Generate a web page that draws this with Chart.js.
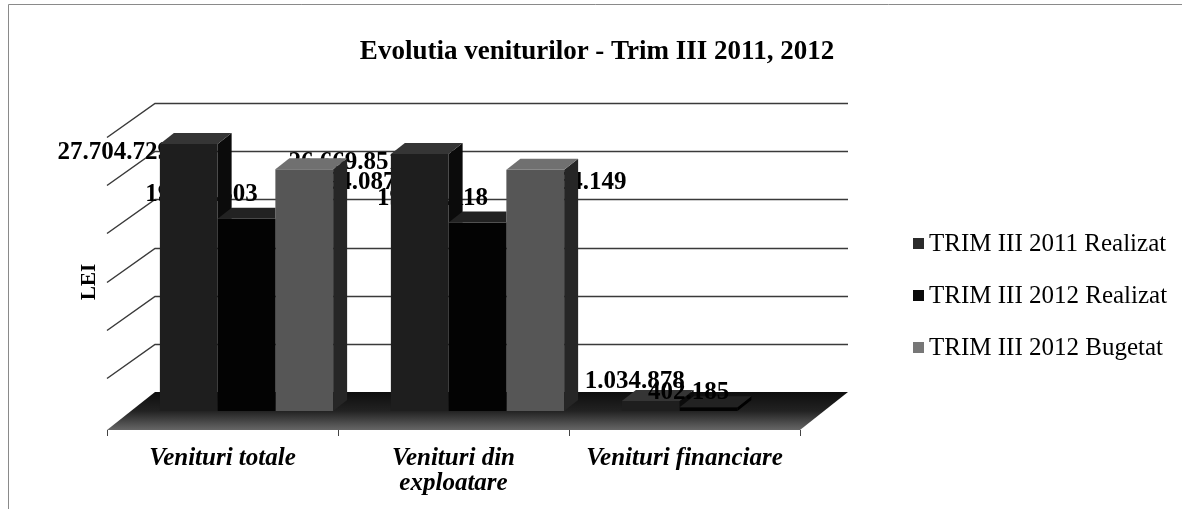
<!DOCTYPE html>
<html>
<head>
<meta charset="utf-8">
<script src="https://cdn.jsdelivr.net/npm/chart.js@4.4.1/dist/chart.umd.min.js"></script>
<style>
  html, body { margin: 0; padding: 0; background: #fff; }
  #wrap { width: 1182px; height: 509px; }
</style>
</head>
<body>
<div id="wrap"><canvas id="chart" width="1182" height="509"></canvas></div>
<script>
// data
const categories = [["Venituri totale"], ["Venituri din", "exploatare"], ["Venituri financiare"]];
const seriesNames = ["TRIM III 2011 Realizat", "TRIM III 2012 Realizat", "TRIM III 2012 Bugetat"];
const realizat2011 = [27704729, 26669851, 1034878];
const realizat2012 = [19958303, 19556118, 402185];
const bugetat2012 = [25094087, 25054149, null];
const yTicks = [0, 5000000, 10000000, 15000000, 20000000, 25000000, 30000000];
const chartTitle = "Evolutia veniturilor - Trim III 2011, 2012";
const axisTitle = "LEI";

// look of the series (front, top, side)
const faces = [
  { front: "#1e1e1e", top: "#353535", side: "#0b0b0b", legend: "#2b2b2b" },
  { front: "#030303", top: "#222222", side: "#000000", legend: "#0a0a0a" },
  { front: "#565656", top: "#707070", side: "#262626", legend: "#777777" },
];
// where each series puts its value label (dxLow used for bars close to the floor)
const labelPos = [
  { dx: -75, dxLow: -16, dy: 8, floor: 29 },
  { dx: -45, dxLow: -20, dy: -24, floor: 18 },
  { dx: 35, dxLow: 0, dy: 13, floor: 18 },
];

const DX = 24, DY = 19;       // offset from bar plane to back wall
const BD = 14, BDY = 11;      // bar depth
const serif = "'Liberation Serif', 'DejaVu Serif', serif";

const fmt = (v) => String(v).replace(/\B(?=(\d{3})+(?!\d))/g, ".");

// draws the value labels of one series; tall bars and floor-level bars separately
function drawLabels(chart, di, lowOnes) {
  const { ctx, chartArea: a } = chart;
  const ds = chart.data.datasets[di];
  const p = labelPos[di];
  ctx.save();
  ctx.font = "bold 25px " + serif;
  ctx.fillStyle = "#000";
  ctx.textAlign = "center";
  ctx.textBaseline = "middle";
  chart.getDatasetMeta(di).data.forEach((bar, i) => {
    const v = ds.data[i];
    if (v == null) return;
    const low = a.bottom - bar.y < 30;
    if (low !== lowOnes) return;
    const ly = low ? a.bottom - p.floor : bar.y + p.dy;
    ctx.fillText(fmt(v), bar.x + (low ? p.dxLow : p.dx), ly);
  });
  ctx.restore();
}

const scenery = {
  id: "scenery",
  beforeDraw(chart) {
    const { ctx, chartArea: a, scales } = chart;
    const y = scales.y, x = scales.x;
    ctx.save();
    ctx.fillStyle = "#fff";
    ctx.fillRect(0, 0, chart.width, chart.height);
    ctx.strokeStyle = "#8a8a8a";
    ctx.lineWidth = 1;
    ctx.beginPath();
    ctx.moveTo(8.5, chart.height);
    ctx.lineTo(8.5, 4.5);
    ctx.lineTo(chart.width, 4.5);
    ctx.stroke();

    // back wall gridlines and side wall
    ctx.strokeStyle = "#3a3a3a";
    ctx.lineWidth = 1.5;
    yTicks.forEach((v) => {
      const py = Math.round(y.getPixelForValue(v) - DY) + 0.5;
      if (v > 0) {
        ctx.beginPath();
        ctx.moveTo(a.right + DX, py);
        ctx.lineTo(a.left + DX, py);
        ctx.lineTo(a.left - DX, py + 2 * DY - 4);
        ctx.stroke();
      }
    });

    // floor
    const bk = y.getPixelForValue(0) - DY, fr = y.getPixelForValue(0) + DY;
    const g = ctx.createLinearGradient(0, bk, 0, fr);
    g.addColorStop(0, "#0e0e0e");
    g.addColorStop(0.5, "#222");
    g.addColorStop(1, "#666");
    ctx.fillStyle = g;
    ctx.beginPath();
    ctx.moveTo(a.left + DX, bk);
    ctx.lineTo(a.right + DX, bk);
    ctx.lineTo(a.right - DX, fr);
    ctx.lineTo(a.left - DX, fr);
    ctx.closePath();
    ctx.fill();
    ctx.strokeStyle = "#444";
    ctx.lineWidth = 1;
    const step = (a.right - a.left) / categories.length;
    for (let i = 0; i <= categories.length; i++) {
      const tx = Math.round(a.left - DX + i * step) + 0.5;
      ctx.beginPath();
      ctx.moveTo(tx, fr);
      ctx.lineTo(tx, fr + 6);
      ctx.stroke();
    }

    // title, axis title, category labels, legend
    ctx.fillStyle = "#000";
    ctx.textAlign = "center";
    ctx.textBaseline = "middle";
    ctx.font = "bold 27px " + serif;
    ctx.fillText(chartTitle, 597, 52);

    ctx.save();
    ctx.translate(90, 282);
    ctx.rotate(-Math.PI / 2);
    ctx.font = "bold 21px " + serif;
    ctx.fillText(axisTitle, 0, 0);
    ctx.restore();

    ctx.font = "italic bold 25px " + serif;
    categories.forEach((lines, i) => {
      const cx = x.getPixelForValue(i) - DX;
      lines.forEach((t, k) => ctx.fillText(t, cx, 459 + k * 25));
    });

    ctx.textAlign = "left";
    ctx.font = "25px " + serif;
    seriesNames.forEach((name, i) => {
      const ly = 244 + i * 52;
      ctx.fillStyle = faces[i].legend;
      ctx.fillRect(913, ly - 6, 11, 11);
      ctx.fillStyle = "#000";
      ctx.fillText(name, 929, ly);
    });
    ctx.restore();
  },
  beforeDatasetsDraw(chart) {
    // most labels sit behind the bars, like the original
    drawLabels(chart, 0, false);
    drawLabels(chart, 2, false);
  },
  afterDatasetDraw(chart, args) {
    if (args.index === 1) drawLabels(chart, 1, false);
  },
  afterDatasetsDraw(chart) {
    // top and side faces for a 3D look
    const { ctx } = chart;
    const metas = chart.data.datasets.map((d, di) => chart.getDatasetMeta(di));
    categories.forEach((c, i) => {
      metas.forEach((meta, di) => {
        const bar = meta.data[i];
        const v = chart.data.datasets[di].data[i];
        if (!bar || v == null) return;
        const { x, y, base, width } = bar.getProps(["x", "y", "base", "width"], true);
        const xl = x - width / 2, xr = x + width / 2;
        ctx.save();
        const next = metas[di + 1] && metas[di + 1].data[i];
        if (next && chart.data.datasets[di + 1].data[i] != null) {
          const n = next.getProps(["x", "y", "base", "width"], true);
          ctx.beginPath();
          ctx.rect(0, 0, chart.width, chart.height);
          ctx.rect(n.x - n.width / 2, n.y, n.width, n.base - n.y);
          ctx.clip("evenodd");
        }
        ctx.fillStyle = faces[di].side;
        ctx.beginPath();
        ctx.moveTo(xr, y);
        ctx.lineTo(xr + BD, y - BDY);
        ctx.lineTo(xr + BD, base - BDY);
        ctx.lineTo(xr, base);
        ctx.closePath();
        ctx.fill();
        ctx.fillStyle = faces[di].top;
        ctx.beginPath();
        ctx.moveTo(xl, y);
        ctx.lineTo(xr, y);
        ctx.lineTo(xr + BD, y - BDY);
        ctx.lineTo(xl + BD, y - BDY);
        ctx.closePath();
        ctx.fill();
        ctx.restore();
      });
    });
    // labels of the floor-level bars stay on top
    metas.forEach((m, di) => drawLabels(chart, di, true));
  },
};

new Chart(document.getElementById("chart"), {
  type: "bar",
  data: {
    labels: categories,
    datasets: [realizat2011, realizat2012, bugetat2012].map((vals, i) => ({
      label: seriesNames[i],
      data: vals,
      backgroundColor: faces[i].front,
      borderWidth: 0,
      categoryPercentage: 0.75,
      barPercentage: 1.0,
    })),
  },
  options: {
    responsive: false,
    animation: false,
    layout: { padding: { left: 131, right: 358, top: 122, bottom: 98 } },
    plugins: { legend: { display: false }, title: { display: false }, tooltip: { enabled: false } },
    scales: {
      x: { display: false },
      y: { display: false, min: 0, max: 30000000, ticks: { stepSize: 5000000 } },
    },
  },
  plugins: [scenery],
});
</script>
</body>
</html>
